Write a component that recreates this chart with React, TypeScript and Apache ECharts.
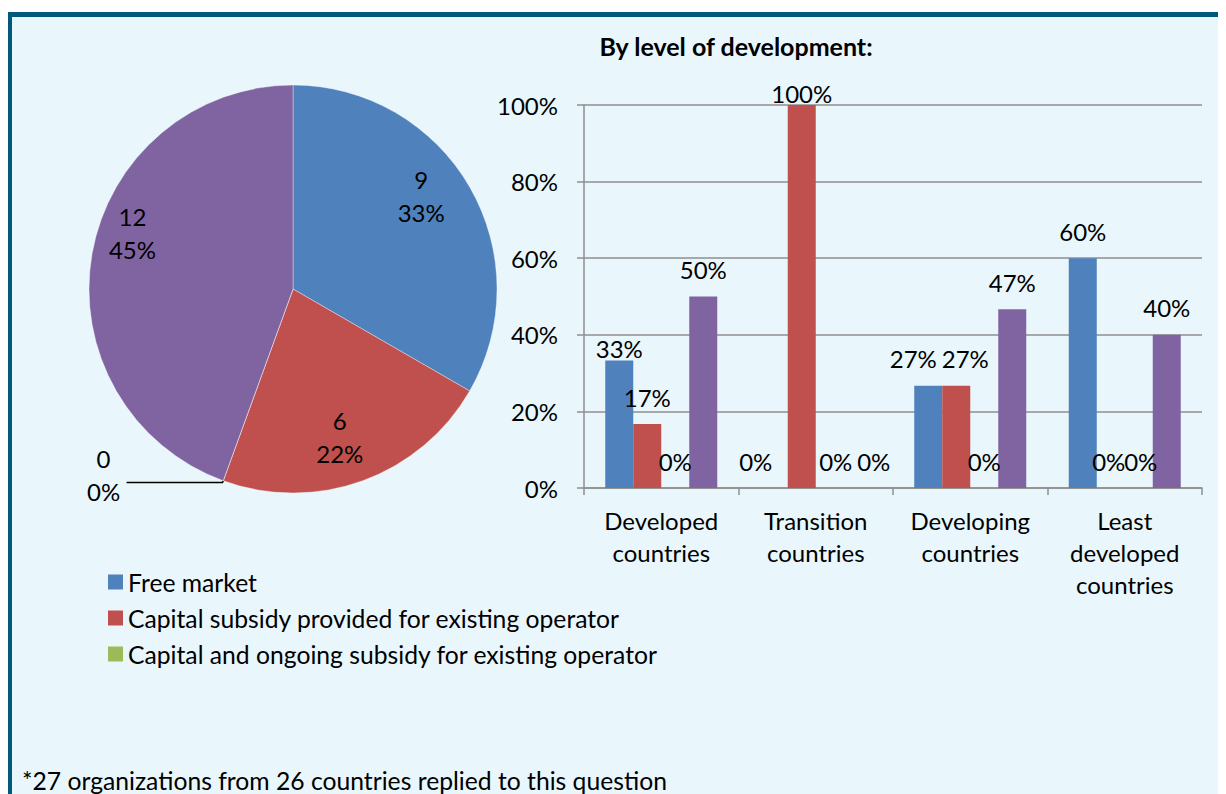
import React, { useEffect, useRef } from "react";
import * as echarts from "echarts";

// ---------- data ----------
const seriesNames = [
  "Free market",
  "Capital subsidy provided for existing operator",
  "Capital and ongoing subsidy for existing operator",
  "Other",
];
const legendNames = seriesNames.slice(0, 3);
const seriesColors = ["#4F81BD", "#C0504D", "#9BBB59", "#8064A2"];

// pie: number of organizations
const pieCounts = [9, 6, 0, 12];

// bar chart: by level of development (percent)
const categories = [
  "Developed\ncountries",
  "Transition\ncountries",
  "Developing\ncountries",
  "Least\ndeveloped\ncountries",
];
const freeMarketPct = [33.3, 0, 26.7, 60];
const capitalSubsidyPct = [16.7, 100, 26.7, 0];
const capitalOngoingPct = [0, 0, 0, 0];
const otherPct = [50, 0, 46.7, 40];
const barValues = [freeMarketPct, capitalSubsidyPct, capitalOngoingPct, otherPct];

const yMin = 0;
const yMax = 100;
const yStep = 20;

const chartTitle = "By level of development:";
const footnote = "*27 organizations from 26 countries replied to this question";

// ---------- styles ----------
const FONT = "Lato";
const BG = "#E9F7FC";
const FRAME = "#00587A";
const GRID = "#8F8F8F";
// per-label tweaks (series-category) mimicking the source's label placement
const barLabelTweaks: Record<string, any> = {
  "0-0": { distance: 0 },
  "1-1": { distance: 0 },
  "0-1": { offset: [-18, 0] },
  "2-1": { offset: [6, 0] },
  "3-1": { offset: [16, 0] },
  "0-2": { offset: [-15, 0] },
  "1-2": { offset: [9, 0] },
  "1-3": { offset: [-2, 0] },
  "2-3": { offset: [2, 0] },
};
// pie label shifts by slice index
const pieLabelShift = [
  { dx: -13, dy: -12 },
  { dx: -9, dy: -5 },
  { dx: -6, dy: -8 },
  { dx: 0, dy: -28 },
];

export default function App() {
  const ref = useRef<HTMLDivElement>(null);

  useEffect(() => {
    if (!ref.current) return;
    const chart = echarts.init(ref.current, undefined, { renderer: "svg" });

    const barSeries = barValues.map((vals, si) => ({
      type: "bar",
      name: seriesNames[si],
      barWidth: 28,
      barGap: "0%",
      itemStyle: { color: seriesColors[si] },
      label: {
        show: true,
        position: "top",
        distance: 15,
        fontSize: 24,
        fontFamily: FONT,
        color: "#000",
        formatter: (p: any) => Math.round(p.value) + "%",
      },
      data: vals.map((v, ci) => {
        const key = si + "-" + ci;
        return key in barLabelTweaks ? { value: v, label: barLabelTweaks[key] } : { value: v };
      }),
    }));

    const pieData = pieCounts.map((v, i) => ({
      name: seriesNames[i],
      value: v,
      itemStyle: { color: seriesColors[i] },
      label: { show: v === 0 },
      labelLine: { show: v === 0 },
    }));

    const pieLabelData = pieCounts.map((v, i) => ({
      name: seriesNames[i],
      value: v,
      label: { show: v > 0 },
    }));

    const option: any = {
      animation: false,
      backgroundColor: BG,
      textStyle: { fontFamily: FONT },
      graphic: [
        { type: "rect", shape: { x: 0, y: 0, width: 1218, height: 4 }, style: { fill: "#ffffff" } },
        { type: "rect", shape: { x: 0, y: 4, width: 1218, height: 5 }, style: { fill: FRAME } },
        { type: "rect", shape: { x: 0, y: 4, width: 4, height: 782 }, style: { fill: FRAME } },
        {
          type: "text",
          x: 728,
          y: 38,
          style: {
            text: chartTitle,
            fontFamily: FONT,
            fontSize: 25,
            fontWeight: "bold",
            fill: "#000",
            align: "center",
            verticalAlign: "middle",
          },
        },
        {
          type: "text",
          x: 14,
          y: 772,
          style: {
            text: footnote,
            fontFamily: FONT,
            fontSize: 24.7,
            fill: "#000",
            align: "left",
            verticalAlign: "middle",
          },
        },
      ],
      legend: {
        data: legendNames,
        orient: "vertical",
        left: 95,
        top: 555,
        itemWidth: 15,
        itemHeight: 15,
        itemGap: 8,
        icon: "rect",
        selectedMode: false,
        textStyle: { fontSize: 24.7, fontFamily: FONT, color: "#000", lineHeight: 28 },
      },
      grid: { left: 576, right: 24, top: 97, bottom: 306, containLabel: false },
      xAxis: {
        type: "category",
        data: categories,
        axisLine: { show: true, lineStyle: { color: GRID, width: 1.5 } },
        axisTick: { show: true, length: 7, lineStyle: { color: GRID, width: 1.5 } },
        axisLabel: {
          interval: 0,
          fontSize: 24,
          lineHeight: 32,
          margin: 16,
          color: "#000",
          fontFamily: FONT,
        },
      },
      yAxis: {
        type: "value",
        min: yMin,
        max: yMax,
        interval: yStep,
        axisLine: { show: true, lineStyle: { color: GRID, width: 1.5 } },
        axisTick: { show: true, length: 7, lineStyle: { color: GRID, width: 1.5 } },
        splitLine: { show: true, lineStyle: { color: GRID, width: 1.5 } },
        axisLabel: {
          formatter: "{value}%",
          fontSize: 24,
          margin: 26,
          color: "#000",
          fontFamily: FONT,
        },
      },
      series: [
        ...barSeries,
        {
          type: "pie",
          name: "pie",
          center: [285, 281],
          radius: [0, 204],
          startAngle: 90,
          clockwise: true,
          percentPrecision: 0,
          avoidLabelOverlap: false,
          silent: true,
          itemStyle: { borderColor: "rgba(255,255,255,0.6)", borderWidth: 0.6 },
          label: {
            position: "outside",
            formatter: "{a|{c}}\n{a|{d}%}",
            rich: { a: { width: 34, align: "center", fontSize: 24, lineHeight: 33, color: "#000", fontFamily: FONT } },
            distanceToLabelLine: 0,
          },
          labelLine: { length: 2, length2: 96, smooth: false, lineStyle: { color: "#000", width: 1.5 } },
          labelLayout: (p: any) => pieLabelShift[p.dataIndex],
          emphasis: { disabled: true },
          data: pieData,
        },
        {
          type: "pie",
          name: "pieLabels",
          center: [285, 281],
          radius: [0, 320],
          startAngle: 90,
          clockwise: true,
          percentPrecision: 0,
          silent: true,
          avoidLabelOverlap: false,
          itemStyle: { color: "rgba(0,0,0,0)" },
          label: {
            position: "inside",
            formatter: "{c}\n{d}%",
            fontSize: 24,
            lineHeight: 33,
            color: "#000",
            fontFamily: FONT,
          },
          labelLine: { show: false },
          labelLayout: (p: any) => pieLabelShift[p.dataIndex],
          emphasis: { disabled: true },
          data: pieLabelData,
        },
      ],
    };

    chart.setOption(option);
    return () => chart.dispose();
  }, []);

  return <div ref={ref} style={{ width: 1218, height: 786 }} />;
}
